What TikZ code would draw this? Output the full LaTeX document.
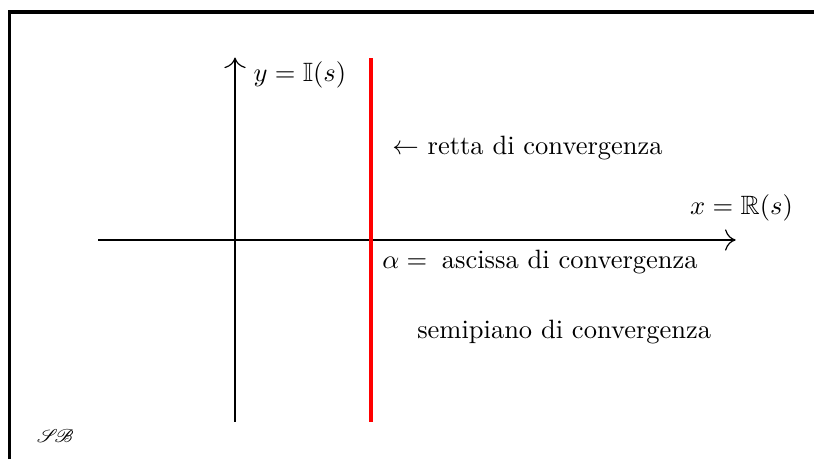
\documentclass[tikz,border=0pt]{standalone}
\usepackage{amsmath,amssymb}
\usepackage{mathrsfs}
\usepackage{tikz}
\usetikzlibrary{arrows.meta}

\begin{document}
\begin{tikzpicture}[x=1cm,y=1cm]
	\tikzset{lbl/.style={anchor=west, inner sep=0pt},
		asse/.style={line width=0.45pt, -{To[length=4pt,width=8pt]}}}
	\useasboundingbox (-3.117,-2.905) rectangle (7.679,3.183);
	% cornice
	\draw [line width=1.15pt] (-2.997,-2.905) -- (-2.997,3.024) -- (7.679,3.024);
	% assi
	\coordinate (xmin) at (-1.817,0);
	\coordinate (xmax) at (6.64,0);
	\coordinate (ymin) at (0,-2.414);
	\coordinate (ymax) at (0,2.42);
	\draw [asse] (xmin) -- (xmax);
	\draw [asse] (ymin) -- (ymax);
	\node [lbl] (ylab) at (0.239,2.19) {$y=\mathbb{I}(s)$};
	\node [lbl] (xlab) at (6.03,0.42) {$x=\mathbb{R}(s)$};
	% retta di convergenza
	\coordinate (alow) at (1.804,-2.414);
	\coordinate (ahigh) at (1.804,2.414);
	\draw [red, line width=1.4pt] (alow) -- (ahigh);
	\node [lbl] (retta) at (2.08,1.22) {$\leftarrow$ retta di convergenza};
	\node [lbl] (ascissa) at (1.946,-0.29) {$\alpha=$\hspace{0.55em}ascissa di convergenza};
	\node [lbl] (semi) at (2.41,-1.216) {semipiano di convergenza};
	\node [lbl, font=\scriptsize] (firma) at (-2.639,-2.60) {$\mathscr{S}\!\mathscr{B}$};
\end{tikzpicture}
\end{document}
